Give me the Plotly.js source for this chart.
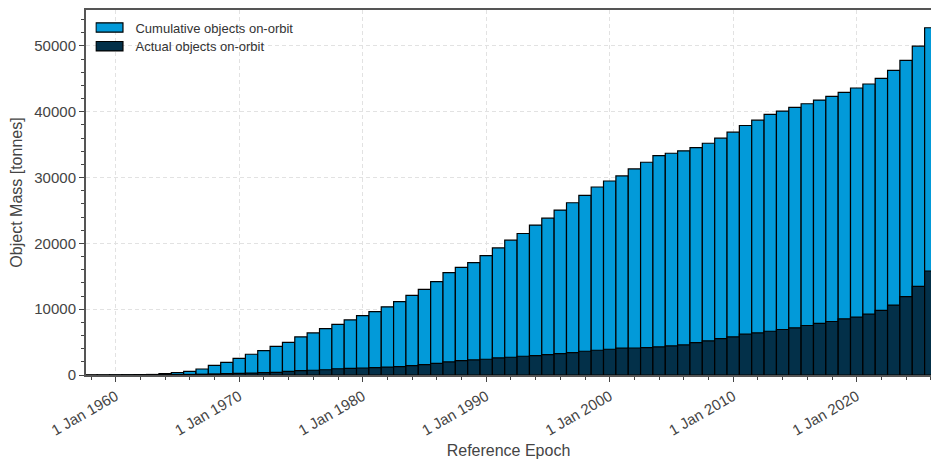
<!DOCTYPE html>
<html>
<head>
<meta charset="utf-8">
<script src="https://cdn.plot.ly/plotly-3.0.1.min.js"></script>
<style>
  html, body { margin: 0; padding: 0; background: #ffffff; }
  #chart { width: 931px; height: 459px; }
</style>
</head>
<body>
<div id="chart"></div>
<script>
// Years (bars centred on 1 Jan of each year)
const years = [];
for (let y = 1958; y <= 2026; y++) years.push(y);

// Cumulative mass of objects launched to orbit [tonnes]
const cumulativeMass = [
  5, 10, 20, 40, 60,                 // 1958-1962
  80, 200, 350, 560, 910,            // 1963-1967
  1470, 1930, 2540, 3150, 3700,      // 1968-1972
  4350, 4960, 5780, 6390, 7050,      // 1973-1977
  7700, 8370, 9030, 9630, 10350,     // 1978-1982
  11160, 12100, 13010, 14180, 15550, // 1983-1987
  16360, 17070, 18140, 19310, 20480, // 1988-1992
  21500, 22770, 23830, 25050, 26170, // 1993-1997
  27290, 28560, 29470, 30240, 31300, // 1998-2002
  32320, 33330, 33690, 34050, 34550, // 2003-2007
  35210, 35980, 36890, 37900, 38720, // 2008-2012
  39580, 40090, 40650, 41210, 41770, // 2013-2017
  42330, 42940, 43600, 44210, 45070, // 2018-2022
  46290, 47810, 49950, 52750         // 2023-2026
];

// Mass of objects actually on orbit [tonnes]
const actualMass = [
  2, 4, 6, 10, 15,                   // 1958-1962
  20, 40, 60, 80, 120,               // 1963-1967
  160, 200, 250, 300, 350,           // 1968-1972
  400, 550, 650, 720, 800,           // 1973-1977
  950, 1020, 1060, 1120, 1200,       // 1978-1982
  1280, 1420, 1580, 1780, 1990,      // 1983-1987
  2190, 2290, 2390, 2590, 2700,      // 1988-1992
  2850, 2950, 3100, 3250, 3410,      // 1993-1997
  3610, 3760, 3910, 4070, 4100,      // 1998-2002
  4170, 4270, 4420, 4570, 4930,      // 2003-2007
  5190, 5540, 5800, 6200, 6400,      // 2008-2012
  6650, 6910, 7170, 7520, 7830,      // 2013-2017
  8130, 8540, 8790, 9250, 9810,      // 2018-2022
  10620, 11900, 13470, 15800         // 2023-2026
];

const seriesNames = ['Cumulative objects on-orbit', 'Actual objects on-orbit'];
const xAxisTitle = 'Reference Epoch';
const yAxisTitle = 'Object Mass [tonnes]';

const dates = years.map(y => y + '-01-01');
const yearMs = 365.25 * 24 * 3600 * 1000;

const font = 'Liberation Sans, Arial, Helvetica, sans-serif';
const textColor = '#444444';

const traces = [
  {
    type: 'bar', x: dates, y: cumulativeMass, name: seriesNames[0],
    width: yearMs,
    marker: { color: '#029ad9', line: { color: '#000000', width: 1.2 } },
    hoverinfo: 'x+y'
  },
  {
    type: 'bar', x: dates, y: actualMass, name: seriesNames[1],
    width: yearMs,
    marker: { color: '#033049', line: { color: '#000000', width: 1.2 } },
    hoverinfo: 'x+y'
  }
];

const layout = {
  width: 931, height: 459,
  margin: { l: 86, r: 0, t: 10, b: 84 },
  paper_bgcolor: '#ffffff', plot_bgcolor: '#ffffff',
  barmode: 'overlay',
  font: { family: font, size: 15, color: textColor },
  showlegend: true,
  legend: {
    x: 0.0112, y: 0.993, xanchor: 'left', yanchor: 'top',
    bgcolor: 'rgba(255,255,255,0)', borderwidth: 0,
    font: { family: font, size: 13, color: '#333333' },
    tracegroupgap: 0, traceorder: 'normal'
  },
  xaxis: {
    type: 'date',
    range: ['1957-08-05', '2026-01-07'],
    tick0: '1960-01-01', dtick: 'M120',
    tickformat: '%-d %b %Y',
    tickangle: -30,
    ticks: 'outside', ticklen: 5, tickwidth: 1, tickcolor: '#444',
    tickfont: { family: font, size: 15, color: textColor },
    showline: true, linecolor: '#555555', linewidth: 2, mirror: true,
    showgrid: true, gridcolor: '#e2e2e2', gridwidth: 1, griddash: '4px,3px',
    zeroline: false,
    minor: { dtick: 'M24', tick0: '1960-01-01', ticks: 'outside', ticklen: 3, tickcolor: '#444', showgrid: false },
    title: { text: xAxisTitle, font: { family: font, size: 16, color: textColor }, standoff: 8 }
  },
  yaxis: {
    range: [0, 55450],
    dtick: 10000, tick0: 0,
    tickformat: 'd',
    ticks: 'outside', ticklen: 5, tickwidth: 1, tickcolor: '#444',
    tickfont: { family: font, size: 15, color: textColor },
    showline: true, linecolor: '#555555', linewidth: 2, mirror: false,
    showgrid: true, gridcolor: '#e2e2e2', gridwidth: 1, griddash: '4px,3px',
    zeroline: false,
    minor: { dtick: 2000, ticks: 'outside', ticklen: 3, tickcolor: '#444', showgrid: false },
    title: { text: yAxisTitle, font: { family: font, size: 16, color: textColor }, standoff: 8 }
  }
};

Plotly.newPlot('chart', traces, layout, { displayModeBar: false, staticPlot: true }).then(function (gd) {
  // Widen legend swatches to rectangular patches like the reference
  gd.querySelectorAll('.legend .legendpoints path').forEach(function (p) {
    p.setAttribute('d', 'M7.5,4.7H-19.5V-4.7H7.5Z');
  });
  // Tighten legend row spacing slightly
  const items = gd.querySelectorAll('.legend .traces');
  if (items.length > 1) {
    const m0 = /translate\(([-\d.]+),\s*([-\d.]+)\)/.exec(items[0].getAttribute('transform') || '');
    if (m0) {
      const x0 = parseFloat(m0[1]), y0 = parseFloat(m0[2]);
      items.forEach(function (it, i) {
        it.setAttribute('transform', 'translate(' + x0 + ',' + (y0 + i * 18.7) + ')');
      });
    }
  }
});
</script>
</body>
</html>
